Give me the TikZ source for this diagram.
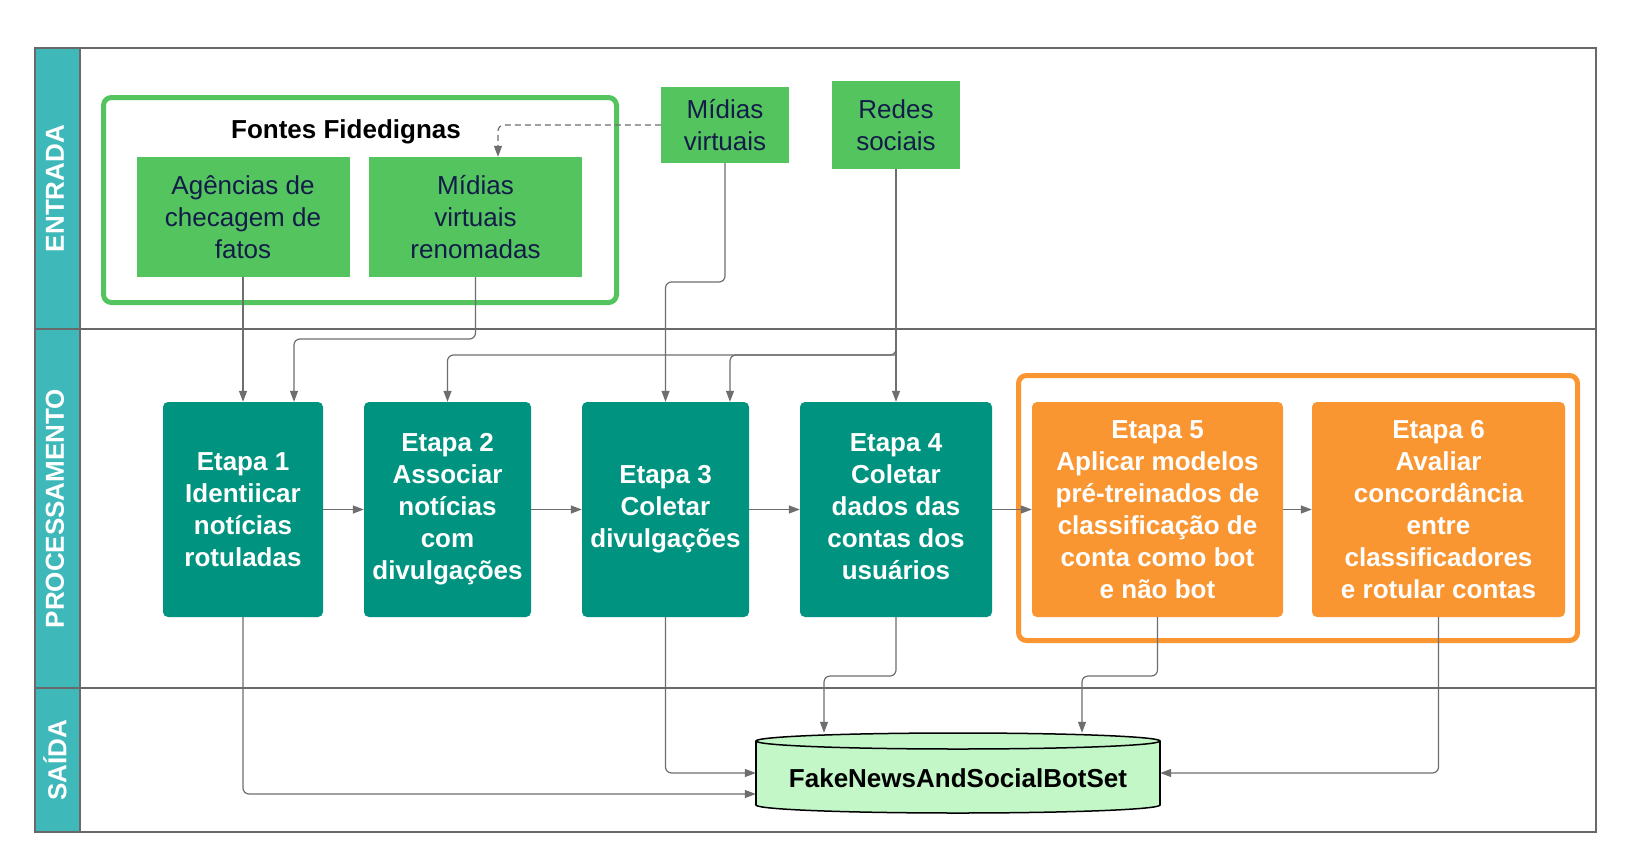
\documentclass[tikz,border=0pt]{standalone}
\usepackage{fontspec}
\setmainfont{Liberation Sans}
\usetikzlibrary{arrows.meta,calc}
\definecolor{headc}{RGB}{62,184,184}
\definecolor{greenc}{RGB}{84,196,94}
\definecolor{tealc}{RGB}{0,148,128}
\definecolor{orangec}{RGB}{250,150,50}
\definecolor{cylc}{RGB}{195,247,200}
\definecolor{navyc}{RGB}{18,28,72}
\definecolor{linec}{RGB}{105,105,105}
\definecolor{connc}{RGB}{110,110,110}
\begin{document}
\begin{tikzpicture}[x=1pt,y=-1pt,
  lane/.style={draw=linec,line width=1.3pt},
  lanelabel/.style={rotate=90,text=white,font=\bfseries\fontsize{26}{32}\selectfont},
  srcbox/.style={fill=greenc,text=navyc,font=\fontsize{26}{32}\selectfont,align=center,inner sep=0pt},
  stepbox/.style={fill=tealc,text=white,font=\bfseries\fontsize{26}{32}\selectfont,align=center,rounded corners=5pt,inner sep=0pt,minimum height=215pt},
  orangebox/.style={stepbox,fill=orangec},
  groupbox/.style={line width=5pt,rounded corners=8pt,fill=white,inner sep=0pt},
  conn/.style={draw=connc,line width=1.2pt,-{Triangle[length=11pt,width=8pt]},rounded corners=6pt},
]
\useasboundingbox (0,0) rectangle (1629,867);
\fill[white] (0,0) rectangle (1629,867);

% swimlanes
\fill[headc] (35,48) rectangle (80,832);
\draw[lane] (35,48) rectangle (1596,832);
\draw[lane] (80,48) -- (80,832);
\draw[lane] (35,329) -- (1596,329);
\draw[lane] (35,688) -- (1596,688);
\node[lanelabel] (lab1) at (55,188.5) {ENTRADA};
\node[lanelabel] (lab2) at (55,508.5) {PROCESSAMENTO};
\node[lanelabel] (lab3) at (55,760) {SAÍDA};

% groups
\node[groupbox,draw=greenc,minimum width=513pt,minimum height=205pt] (fontes) at (360,200) {};
\node[groupbox,draw=orangec,minimum width=559pt,minimum height=265pt] (orgrp) at (1298,508) {};
\node[font=\bfseries\fontsize{26}{32}\selectfont] (ftitle) at (346,132) {Fontes Fidedignas};

% source boxes
\node[srcbox,minimum width=213pt,minimum height=120pt] (ag) at (243,217) {Agências de\\checagem de\\fatos};
\node[srcbox,minimum width=213pt,minimum height=120pt] (mr) at (475.5,217) {Mídias\\virtuais\\renomadas};
\node[srcbox,minimum width=128pt,minimum height=76pt] (mv) at (725,125) {Mídias\\virtuais};
\node[srcbox,minimum width=128pt,minimum height=88pt] (redes) at (896,125) {Redes\\sociais};

% steps
\node[stepbox,minimum width=160pt] (e1) at (243,509.5) {Etapa 1\\Identiicar\\notícias\\rotuladas};
\node[stepbox,minimum width=167pt] (e2) at (447.5,509.5) {Etapa 2\\Associar\\notícias\\com\\divulgações};
\node[stepbox,minimum width=167pt] (e3) at (665.5,509.5) {Etapa 3\\Coletar\\divulgações};
\node[stepbox,minimum width=192pt] (e4) at (896,509.5) {\raisebox{4pt}{\begin{tabular}{@{}c@{}}Etapa 4\\Coletar\\dados das\\contas dos\\usuários\end{tabular}}};
\node[orangebox,minimum width=251pt] (e5) at (1157.5,509.5) {Etapa 5\\Aplicar modelos\\pré-treinados de\\classificação de\\conta como bot\\e não bot};
\node[orangebox,minimum width=253pt] (e6) at (1438.5,509.5) {Etapa 6\\Avaliar\\concordância\\entre\\classificadores\\e rotular contas};

% database cylinder
\filldraw[fill=cylc,draw=black,line width=1.5pt] (958,805) ellipse [x radius=202,y radius=8];
\fill[cylc] (756,741) rectangle (1160,805);
\draw[black,line width=1.5pt] (756,741) -- (756,805) (1160,741) -- (1160,805);
\filldraw[fill=cylc,draw=black,line width=1.5pt] (958,741) ellipse [x radius=202,y radius=8];
\node[minimum width=404pt,minimum height=90pt,inner sep=0pt,font=\bfseries\fontsize{26}{32}\selectfont] (db) at (958,778) {FakeNewsAndSocialBotSet};

% helper coordinates
\coordinate (ya) at (0,339);
\coordinate (yb) at (0,355);
\coordinate (yc) at (0,282);
\coordinate (yd) at (0,676);
\coordinate (ye) at (0,773);
\coordinate (yf) at (0,794);
\coordinate (t1) at ($(e1.north)+(51,0)$);
\coordinate (t3) at ($(e3.north)+(64.5,0)$);
\coordinate (tm) at ($(mr.north)+(22.5,0)$);
\coordinate (c4) at ($(db.north)+(-134,0)$);
\coordinate (c5) at ($(db.north)+(124,0)$);

% connectors, input
\draw[conn] (ag.south) -- (e1.north);
\draw[conn] (mr.south) |- (t1 |- ya) -- (t1);
\draw[conn] (mv.south) |- (e3.north |- yc) -- (e3.north);
\draw[conn,dash pattern=on 6pt off 4pt] (mv.west) -| (tm);
\draw[conn] (redes.south) -- (e4.north);
\draw[conn] (redes.south) |- (e2.north |- yb) -- (e2.north);
\draw[conn] (redes.south |- yb) -| (t3);

% connectors, steps
\draw[conn] (e1.east) -- (e2.west);
\draw[conn] (e2.east) -- (e3.west);
\draw[conn] (e3.east) -- (e4.west);
\draw[conn] (e4.east) -- (e5.west);
\draw[conn] (e5.east) -- (e6.west);

% connectors, output
\draw[conn] (e1.south) |- (db.west |- yf);
\draw[conn] (e3.south) |- (db.west |- ye);
\draw[conn] (e4.south) |- (c4 |- yd) -- (c4);
\draw[conn] (e5.south) |- (c5 |- yd) -- (c5);
\draw[conn] (e6.south) |- (db.east |- ye);
\end{tikzpicture}
\end{document}
